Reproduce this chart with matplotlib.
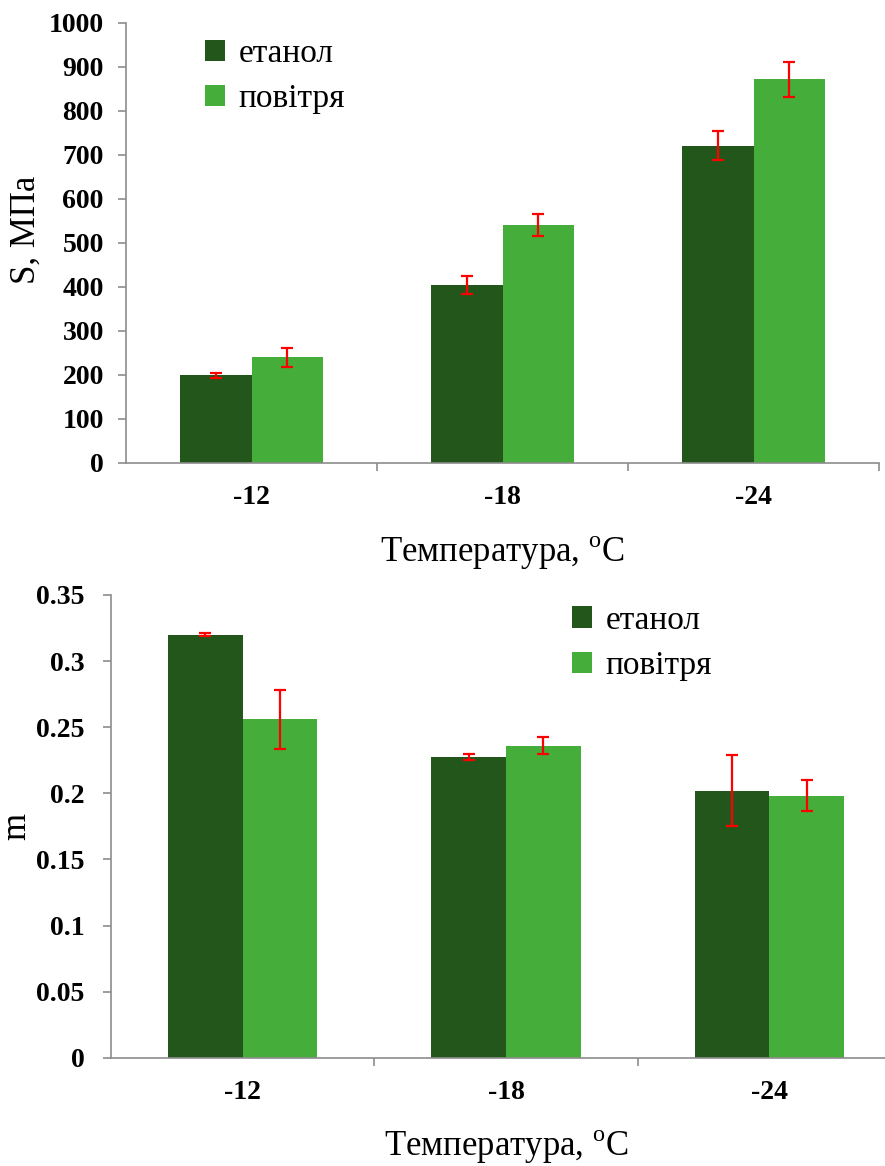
import numpy as np
import matplotlib
matplotlib.use('Agg')
import matplotlib.pyplot as plt

plt.rcParams['font.family'] = ['Liberation Serif', 'DejaVu Serif']
plt.rcParams['mathtext.fontset'] = 'custom'
plt.rcParams['mathtext.rm'] = 'Liberation Serif'

temps = ['-12', '-18', '-24']
series = ['етанол', 'повітря']

s_etanol = [199, 404, 721]
s_etanol_err = [5, 20, 33]
s_povitrya = [240, 541, 872]
s_povitrya_err = [22, 24, 40]

m_etanol = [0.320, 0.2275, 0.202]
m_etanol_err = [0.001, 0.002, 0.027]
m_povitrya = [0.256, 0.236, 0.198]
m_povitrya_err = [0.0225, 0.0063, 0.0117]

c_dark = '#22561b'
c_light = '#45ad3a'
c_axis = '#8c8c8c'

fig = plt.figure(figsize=(8.85, 11.66), dpi=100)
ax1 = fig.add_axes([126 / 885, 1 - 463 / 1166, 753 / 885, 440 / 1166])
ax2 = fig.add_axes([111 / 885, 1 - 1057.7 / 1166, 790 / 885, 462.7 / 1166])

x = np.arange(len(temps))
w = 0.284


def draw(ax, a, a_err, b, b_err, ylim, yticks, yticklabels, ylabel, leg_pos, ypad):
    ax.bar(x - w / 2, a, w, color=c_dark, label=series[0], zorder=2)
    ax.bar(x + w / 2, b, w, color=c_light, label=series[1], zorder=2)
    ax.errorbar(x - w / 2, a, yerr=a_err, fmt='none', ecolor='red',
                elinewidth=1.6, capsize=4, capthick=1.6, zorder=3)
    ax.errorbar(x + w / 2, b, yerr=b_err, fmt='none', ecolor='red',
                elinewidth=1.6, capsize=4, capthick=1.6, zorder=3)
    ax.set_xlim(-0.5, 2.5)
    ax.set_ylim(*ylim)
    ax.set_yticks(yticks)
    ax.set_yticklabels(yticklabels, fontsize=20, fontweight='bold')
    ax.set_xticks([0.5, 1.5, 2.5])
    ax.set_xticklabels([])
    ax.set_xticks(x, minor=True)
    ax.set_xticklabels(temps, minor=True, fontsize=20, fontweight='bold')
    ax.tick_params(axis='x', which='minor', length=0, pad=16)
    ax.tick_params(axis='both', which='major', length=6, color=c_axis, width=1.2)
    ax.tick_params(axis='y', pad=ypad)
    for s in ['top', 'right']:
        ax.spines[s].set_visible(False)
    for s in ['left', 'bottom']:
        ax.spines[s].set_color(c_axis)
        ax.spines[s].set_linewidth(1.2)
    ax.set_ylabel(ylabel, fontsize=25)
    ax.set_xlabel('Температура, $^\\mathrm{o}$C', fontsize=25, labelpad=17)
    ax.legend(loc='upper left', bbox_to_anchor=leg_pos, frameon=False,
              fontsize=24, handlelength=0.6, handleheight=0.6,
              handletextpad=0.4, labelspacing=0.45, borderaxespad=0,
              borderpad=0)


draw(ax1, s_etanol, s_etanol_err, s_povitrya, s_povitrya_err,
     (0, 1000), np.arange(0, 1001, 100), [str(v) for v in range(0, 1001, 100)],
     'S, МПа', (0.105, 0.965), 10)
draw(ax2, m_etanol, m_etanol_err, m_povitrya, m_povitrya_err,
     (0, 0.35), np.arange(0, 0.351, 0.05),
     ['0', '0.05', '0.1', '0.15', '0.2', '0.25', '0.3', '0.35'],
     'm', (0.584, 0.978), 13)

ax1.yaxis.set_label_coords(-0.11, 0.53)
ax2.yaxis.set_label_coords(-0.098, 0.5)

fig.savefig('out.png', dpi=100)
